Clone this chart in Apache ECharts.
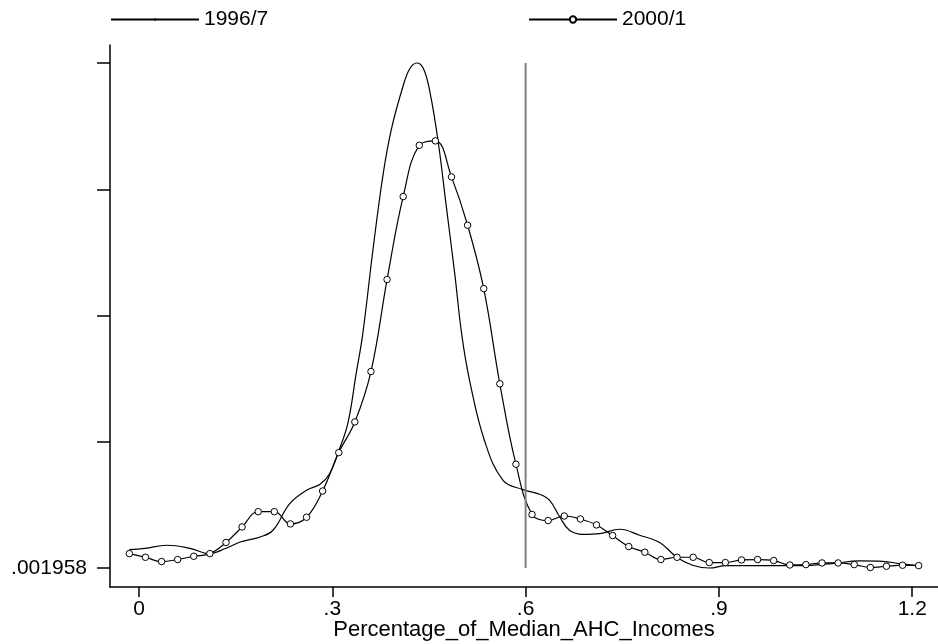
<!DOCTYPE html>
<html>
<head>
<meta charset="utf-8">
<script src="https://cdn.jsdelivr.net/npm/echarts@6/dist/echarts.min.js"></script>
<style>
  html, body { margin: 0; padding: 0; background: #fff; }
  #chart { width: 938px; height: 644px; }
</style>
</head>
<body>
<div id="chart"></div>
<script>
// 1996/7 density curve
var x1996 = [-0.015, 0.009, 0.043, 0.079, 0.109, 0.134, 0.157, 0.188, 0.208, 0.234,
  0.260, 0.281, 0.296, 0.309, 0.324, 0.337, 0.347, 0.363, 0.379, 0.392,
  0.410, 0.420, 0.431, 0.441, 0.451, 0.464, 0.477, 0.490, 0.501, 0.513,
  0.536, 0.565, 0.596, 0.622, 0.637, 0.653, 0.668, 0.689, 0.715, 0.746,
  0.777, 0.808, 0.834, 0.859, 0.885, 0.911, 0.973, 1.025, 1.076, 1.118,
  1.154, 1.180, 1.210];
var y1996 = [0.148, 0.158, 0.182, 0.158, 0.116, 0.156, 0.208, 0.248, 0.301, 0.512,
  0.618, 0.665, 0.750, 0.916, 1.146, 1.542, 1.846, 2.519, 3.126, 3.485,
  3.822, 3.955, 4.002, 3.962, 3.786, 3.390, 2.862, 2.334, 1.846, 1.489,
  1.014, 0.697, 0.623, 0.586, 0.539, 0.406, 0.301, 0.269, 0.275, 0.309,
  0.261, 0.204, 0.090, 0.024, 0.002, 0.021, 0.021, 0.021, 0.037, 0.058,
  0.055, 0.037, 0.021];

// 2000/1 density curve, one value per marker
var x2000 = [-0.015, 0.010, 0.035, 0.060, 0.085, 0.110, 0.135, 0.160, 0.185, 0.210,
  0.235, 0.260, 0.285, 0.310, 0.335, 0.360, 0.385, 0.410, 0.435, 0.460,
  0.485, 0.510, 0.535, 0.560, 0.585, 0.610, 0.635, 0.660, 0.685, 0.710,
  0.735, 0.760, 0.785, 0.810, 0.835, 0.860, 0.885, 0.910, 0.935, 0.960,
  0.985, 1.010, 1.035, 1.060, 1.085, 1.110, 1.135, 1.160, 1.185, 1.210];
var y2000 = [0.116, 0.087, 0.053, 0.069, 0.095, 0.116, 0.204, 0.327, 0.448, 0.448,
  0.351, 0.404, 0.612, 0.916, 1.159, 1.558, 2.287, 2.944, 3.350, 3.385,
  3.100, 2.717, 2.215, 1.461, 0.824, 0.426, 0.378, 0.414, 0.390, 0.343,
  0.259, 0.172, 0.127, 0.069, 0.087, 0.087, 0.045, 0.045, 0.066, 0.069,
  0.061, 0.026, 0.029, 0.042, 0.042, 0.029, 0.006, 0.016, 0.024, 0.021];

var xTicks = [0, 0.3, 0.6, 0.9, 1.2];
var yTicks = [0.001958, 1.001958, 2.001958, 3.001958, 4.001958];
var yLabelTicks = [0.001958];
var povertyLine = 0.6;

function pairs(xs, ys) {
  var out = [];
  for (var i = 0; i < xs.length; i++) out.push([xs[i], ys[i]]);
  return out;
}

var font = 'Liberation Sans, Arial, sans-serif';
var chart = echarts.init(document.getElementById('chart'));
chart.setOption({
  animation: false,
  backgroundColor: '#fff',
  textStyle: { fontFamily: font, color: '#000' },
  legend: [
    {
      data: ['1996/7'], left: 110, top: 9, padding: 0,
      itemWidth: 88, itemHeight: 3,
      textStyle: { fontSize: 21, color: '#000', fontFamily: font }
    },
    {
      data: ['2000/1'], left: 528, top: 9, padding: 0,
      itemWidth: 88, itemHeight: 8,
      textStyle: { fontSize: 21, color: '#000', fontFamily: font }
    }
  ],
  grid: { left: 110, right: 0, top: 45, bottom: 57, outerBoundsMode: 'none' },
  xAxis: {
    type: 'value',
    min: -0.045, max: 1.24,
    splitLine: { show: false },
    axisLine: { onZero: false, lineStyle: { color: '#000', width: 1.5 } },
    axisTick: { customValues: xTicks, length: 10, lineStyle: { color: '#000', width: 1.5 } },
    axisLabel: {
      customValues: xTicks, margin: 12, fontSize: 21, color: '#000', fontFamily: font,
      formatter: function (v) { return String(v).replace(/^0\./, '.'); }
    },
    name: 'Percentage_of_Median_AHC_Incomes',
    nameLocation: 'middle', nameGap: 32, nameMoveOverlap: false,
    nameTextStyle: { fontSize: 22, color: '#000', fontFamily: font }
  },
  yAxis: {
    type: 'value',
    min: -0.1485, max: 4.1446,
    splitLine: { show: false },
    axisLine: { onZero: false, lineStyle: { color: '#000', width: 1.5 } },
    axisTick: { customValues: yTicks, length: 13, lineStyle: { color: '#000', width: 1.5 } },
    axisLabel: {
      customValues: yLabelTicks, margin: 23, fontSize: 21, color: '#000', fontFamily: font,
      formatter: function () { return '.001958'; }
    }
  },
  series: [
    {
      name: '1996/7', type: 'line', data: pairs(x1996, y1996),
      smooth: 0.4, showSymbol: false, symbol: 'circle', symbolSize: 2,
      itemStyle: { color: '#000' },
      lineStyle: { color: '#000', width: 1.2 }
    },
    {
      name: '2000/1', type: 'line', data: pairs(x2000, y2000),
      smooth: 0.4, symbol: 'circle', symbolSize: 6.5,
      itemStyle: { color: '#fff', borderColor: '#000', borderWidth: 1 },
      lineStyle: { color: '#000', width: 1.2 }
    },
    {
      name: 'line', type: 'line', silent: true,
      data: [[povertyLine, yTicks[0]], [povertyLine, yTicks[yTicks.length - 1]]],
      symbol: 'none',
      lineStyle: { color: '#808080', width: 2 }
    }
  ]
});
</script>
</body>
</html>
